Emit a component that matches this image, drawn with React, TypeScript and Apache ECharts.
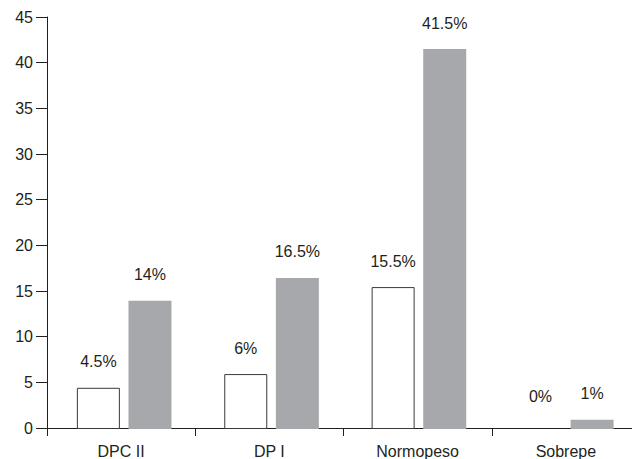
import React, { useEffect, useRef } from "react";
import * as echarts from "echarts";

const categories = ["DPC II", "DP I", "Normopeso", "Sobrepe"];
const seriesWhite = [4.5, 6, 15.5, 0];
const seriesGray = [14, 16.5, 41.5, 1];
const yTicks = { min: 0, max: 45, interval: 5 };

export default function App() {
  const ref = useRef<HTMLDivElement>(null);
  useEffect(() => {
    if (!ref.current) return;
    const chart = echarts.init(ref.current, null, { renderer: "svg" });
    const textColor = "#231f20";
    const font = "Liberation Sans, Arial, sans-serif";
    const labelFmt = (p: any) => `${p.value}%`;
    const label = {
      show: true,
      position: "top",
      distance: 18,
      formatter: labelFmt,
      color: textColor,
      fontSize: 16,
      fontFamily: font,
    };
    const whiteData = seriesWhite.map((v) =>
      v === 0
        ? { value: v, itemStyle: { borderWidth: 0 }, label: { distance: 25 } }
        : { value: v }
    );
    chart.setOption({
      animation: false,
      grid: [
        { left: 47, top: 17, width: 597, height: 412, containLabel: false },
        { left: 50.5, top: 17, width: 597, height: 412, containLabel: false },
      ],
      xAxis: [
        {
          type: "category",
          gridIndex: 0,
          data: categories,
          boundaryGap: true,
          axisLine: { lineStyle: { color: textColor, width: 1 } },
          axisTick: { show: true, alignWithLabel: false, length: 8, lineStyle: { color: textColor } },
          axisLabel: { color: textColor, fontSize: 16, fontFamily: font, margin: 15 },
        },
        {
          type: "category",
          gridIndex: 1,
          data: categories,
          boundaryGap: true,
          show: false,
        },
      ],
      yAxis: [
        {
          type: "value",
          gridIndex: 0,
          min: yTicks.min,
          max: yTicks.max,
          interval: yTicks.interval,
          splitLine: { show: false },
          axisLine: { show: true, lineStyle: { color: textColor, width: 1 } },
          axisTick: { show: true, length: 11, lineStyle: { color: textColor } },
          axisLabel: { color: textColor, fontSize: 16, fontFamily: font, margin: 14 },
        },
        {
          type: "value",
          gridIndex: 1,
          min: yTicks.min,
          max: yTicks.max,
          interval: yTicks.interval,
          show: false,
          splitLine: { show: false },
        },
      ],
      series: [
        {
          type: "bar",
          xAxisIndex: 1,
          yAxisIndex: 1,
          data: whiteData,
          barWidth: 43,
          barGap: "20%",
          itemStyle: { color: "#ffffff", borderColor: "#3a3a3a", borderWidth: 1 },
          label,
        },
        {
          type: "bar",
          xAxisIndex: 1,
          yAxisIndex: 1,
          data: seriesGray,
          barWidth: 43,
          barGap: "20%",
          itemStyle: { color: "#a7a8ab" },
          label,
        },
      ],
    });
    return () => chart.dispose();
  }, []);
  return <div ref={ref} style={{ width: 640, height: 459, margin: "-8px 0 0 -8px" }} />;
}
